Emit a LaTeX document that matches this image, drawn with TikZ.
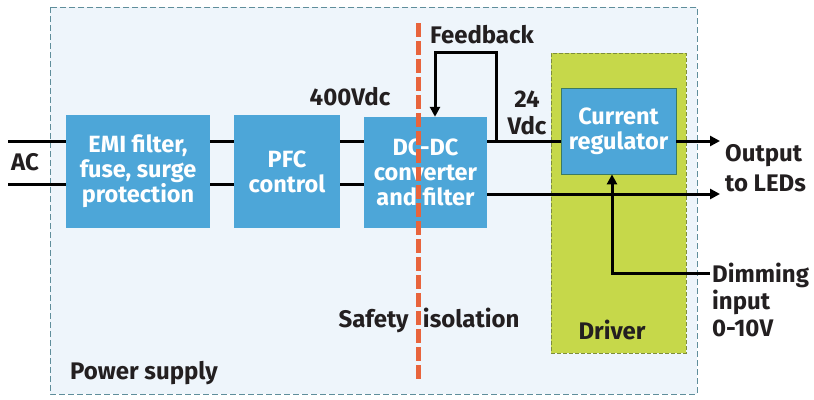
\documentclass[tikz,border=0pt]{standalone}
\usepackage{fontspec}
\setmainfont{Fira Sans}
\usepackage{tikz}
\usetikzlibrary{arrows.meta, positioning}
\definecolor{boxblue}{HTML}{4DA6D8}
\definecolor{supplybg}{HTML}{EEF5FB}
\definecolor{supplyline}{HTML}{5F8E9B}
\definecolor{drivergreen}{HTML}{C6D84A}
\definecolor{driverline}{HTML}{7F8E3A}
\definecolor{regline}{HTML}{3C7A62}
\definecolor{isoorange}{HTML}{E8643C}
\definecolor{labeltext}{HTML}{231F20}

\tikzset{
    block/.style={fill=boxblue, text=white, align=center, inner sep=0pt,
        font=\bfseries\fontsize{23.5}{25}\selectfont},
    lbl/.style={text=labeltext, align=left, inner sep=0pt,
        font=\bfseries\fontsize{24}{27}\selectfont},
    wire/.style={line width=3pt, draw=black},
    arr/.style={wire, -{Triangle[length=10pt, width=10pt]}}
}

\begin{document}
\begin{tikzpicture}[x=1pt, y=-1pt]
    \useasboundingbox (0,0) rectangle (814,399);
    % power supply area
    \draw[fill=supplybg, draw=supplyline, dash pattern=on 6pt off 3pt, line width=0.8pt] (50,7) rectangle (697,394);
    \node[lbl, anchor=west] (psu) at (70,373) {Power supply};

    % driver area
    \node[fill=drivergreen, draw=driverline, dash pattern=on 4pt off 2pt, line width=0.8pt,
        minimum width=135pt, minimum height=300pt, inner sep=0pt] (driver) at (618.5,203) {};
    \node[lbl] (drvlbl) at (612,330) {Driver};

    % blocks
    \node[block, minimum width=144pt, minimum height=113pt] (emi) at (138,171.5) {EMI filter,\\fuse, surge\\protection};
    \node[block, minimum width=106pt, minimum height=113pt] (pfc) at (287,171.5) {PFC\\control};
    \node[block, minimum width=123pt, minimum height=111pt] (dcdc) at (425.5,172.5) {DC-DC\\converter\\and filter};
    \node[block, draw=regline, line width=0.8pt, minimum width=115pt, minimum height=86pt] (reg) at (618.5,131) {Current\\regulator};

    % rails
    \coordinate (hi) at (8,141);
    \coordinate (lo) at (8,184);
    \coordinate (outhi) at (720,141);
    \coordinate (outlo) at (720,194);
    \draw[wire] (hi) -- (emi.west |- hi);
    \draw[wire] (lo) -- (emi.west |- lo);
    \draw[wire] (emi.east |- hi) -- (pfc.west |- hi);
    \draw[wire] (emi.east |- lo) -- (pfc.west |- lo);
    \draw[wire] (pfc.east |- hi) -- (dcdc.west |- hi);
    \draw[wire] (pfc.east |- lo) -- (dcdc.west |- lo);
    \draw[wire] (dcdc.east |- hi) -- (reg.west |- hi);
    \draw[arr] (reg.east |- outhi) -- (outhi);
    \draw[arr] (dcdc.east |- outlo) -- (outlo);

    % feedback loop
    \coordinate (fbstart) at (496,141);
    \coordinate (fbtop) at (435,52);
    \draw[arr] (fbstart) |- (fbtop) -- (fbtop |- dcdc.north);

    % dimming input
    \coordinate (dim) at (710,273);
    \coordinate (dimcorner) at (612,273);
    \draw[arr] (dim) -- (dimcorner) -- (dimcorner |- reg.south);

    % safety isolation
    \draw[draw=isoorange, line width=5pt, dash pattern=on 14pt off 4pt] (418,23) -- (418,380);

    % labels
    \node[lbl] (ac) at (25,162) {AC};
    \node[lbl] (vbus) at (350,97) {400Vdc};
    \node[lbl] (fb) at (482,35) {Feedback};
    \node[lbl, align=center] (vout) at (527,113) {24\\Vdc};
    \node[lbl, anchor=west, font=\bfseries\fontsize{24}{30}\selectfont] (leds) at (725,168) {Output\\to LEDs};
    \node[lbl, anchor=west] (dimlbl) at (712,300) {Dimming\\input\\0-10V};
    \node[lbl] (iso) at (429,320) {Safety\hspace{0.6em}isolation};
\end{tikzpicture}
\end{document}
